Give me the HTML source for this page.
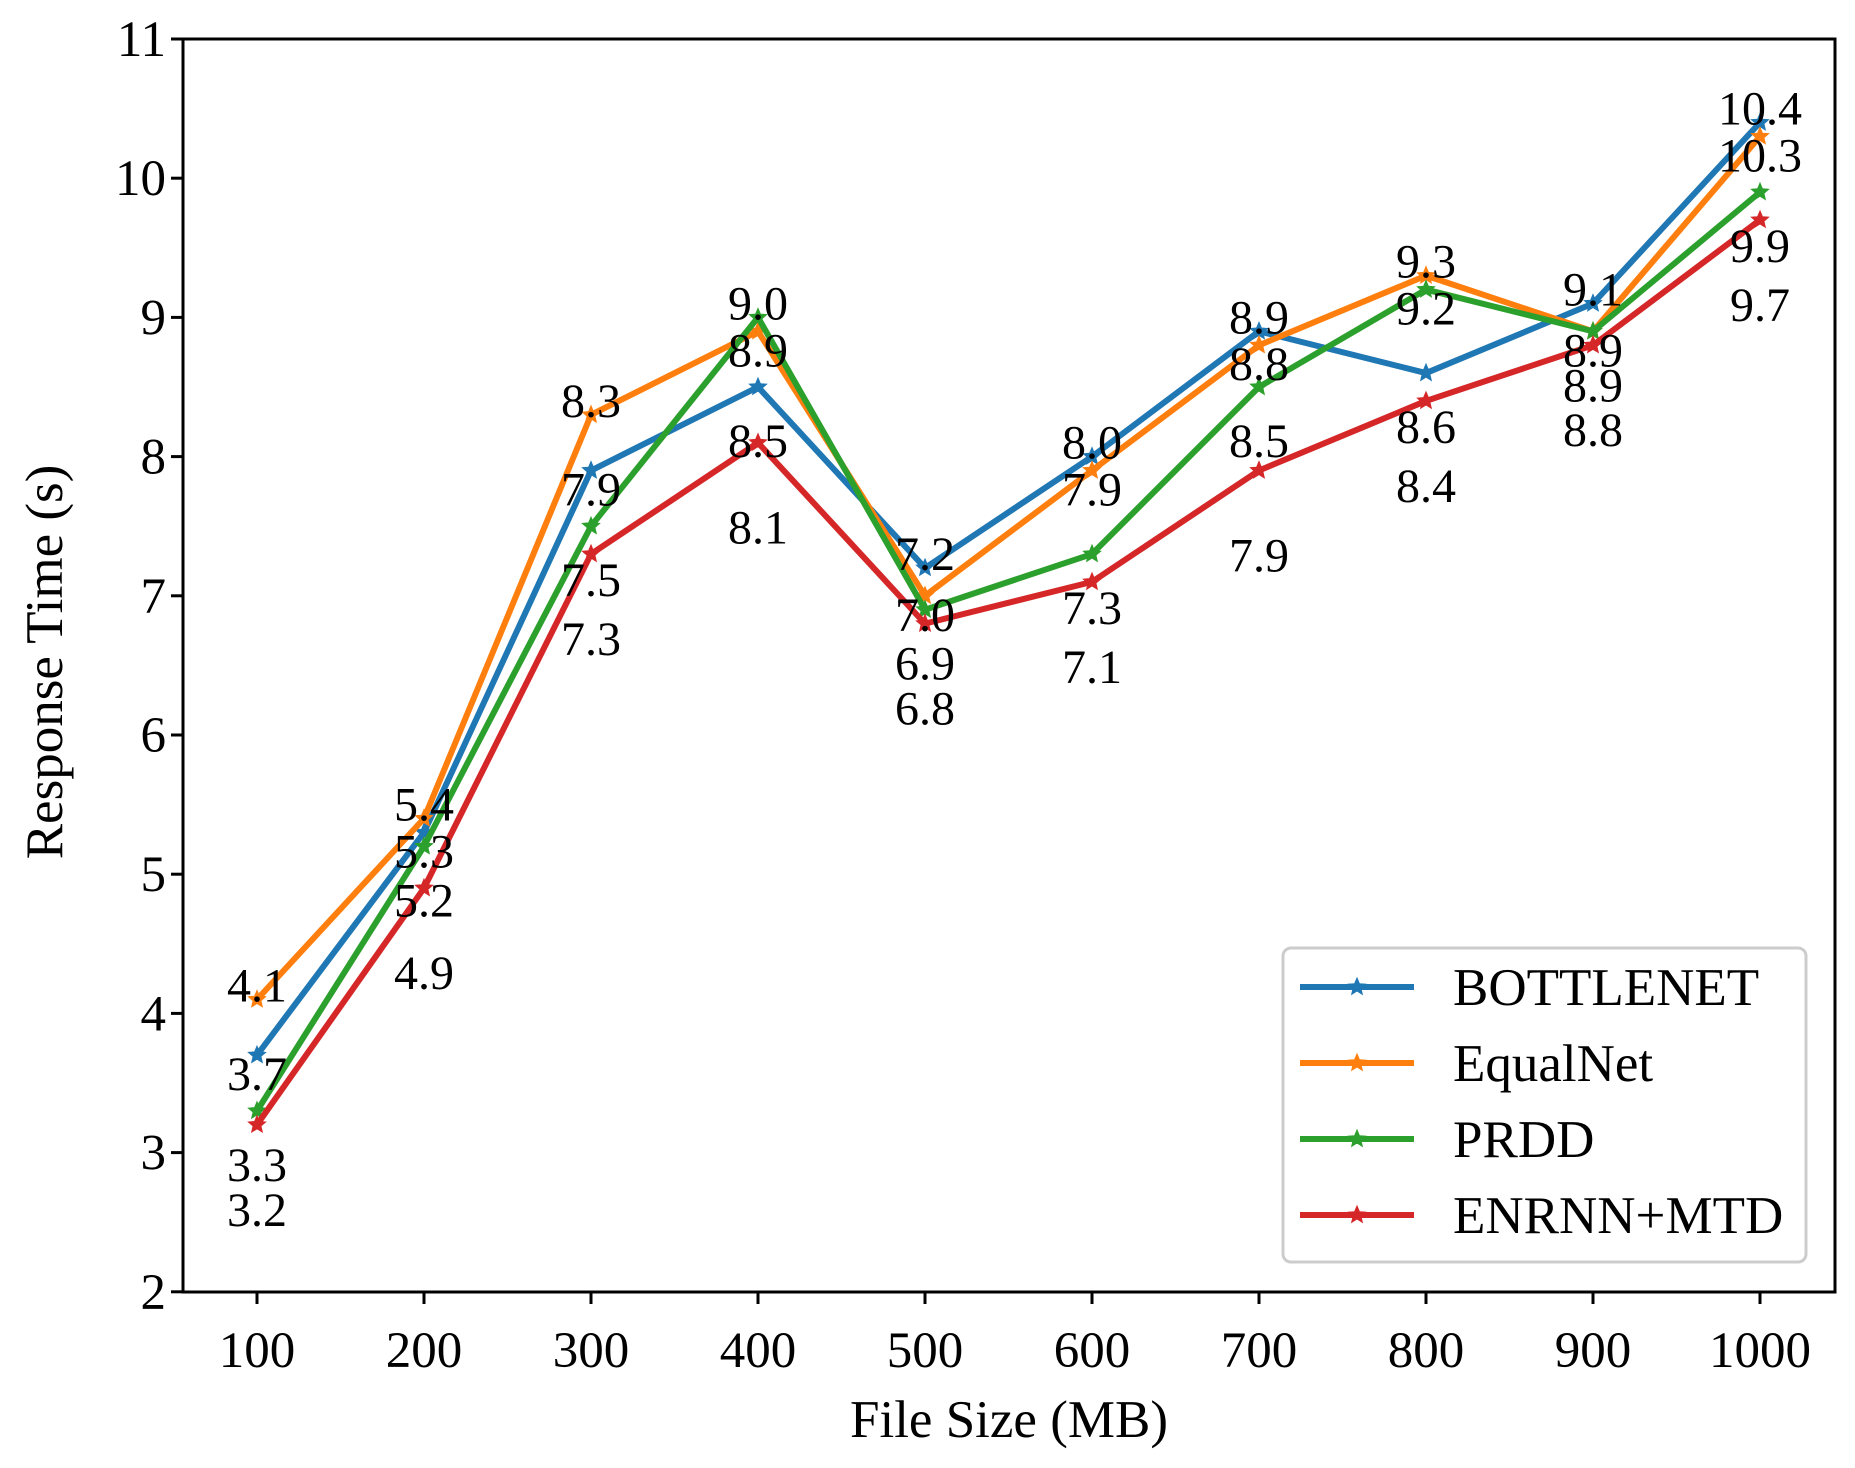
<!DOCTYPE html>
<html><head><meta charset="utf-8"><style>
html,body{margin:0;padding:0;background:#fff}
svg{display:block;font-family:"Liberation Serif",serif}
</style></head><body>
<svg id="chart" width="1855" height="1468" viewBox="0 0 1855 1468">
<g id="grid"></g>
<rect x="183" y="39" width="1652" height="1253" fill="none" stroke="#000" stroke-width="3"/>
<g id="axes"></g>
<g id="series"></g>
<g id="labels"></g>
<text x="1009" y="1437" font-size="53" text-anchor="middle">File Size (MB)</text>
<text transform="translate(62,662) rotate(-90)" font-size="53" text-anchor="middle">Response Time (s)</text>
<g id="legend"></g>
</svg>
<script>
const categories = [100,200,300,400,500,600,700,800,900,1000];
const seriesNames = ["BOTTLENET","EqualNet","PRDD","ENRNN+MTD"];
const bottlenet = [3.7,5.3,7.9,8.5,7.2,8.0,8.9,8.6,9.1,10.4];
const equalnet = [4.1,5.4,8.3,8.9,7.0,7.9,8.8,9.3,8.9,10.3];
const prdd = [3.3,5.2,7.5,9.0,6.9,7.3,8.5,9.2,8.9,9.9];
const enrnn = [3.2,4.9,7.3,8.1,6.8,7.1,7.9,8.4,8.8,9.7];
const yTicks = [2,3,4,5,6,7,8,9,10,11];
const colors = ["#1f77b4","#ff7f0e","#2ca02c","#d62728"];
const allSeries = [bottlenet,equalnet,prdd,enrnn];
const NS="http://www.w3.org/2000/svg";
function X(v){return 257+(v-100)*1.67;}
function Y(v){return 39+(11-v)*139.2;}
function mk(tag,attrs,parent){const e=document.createElementNS(NS,tag);for(const k in attrs)e.setAttribute(k,attrs[k]);parent.appendChild(e);return e;}
const axes=document.getElementById('axes');
yTicks.forEach(t=>{
  const l=mk('line',{x1:171,x2:183,y1:Y(t),y2:Y(t),stroke:'#000','stroke-width':3},axes);
  
  
  const tx=mk('text',{x:166,y:Y(t)+17,'font-size':51,'text-anchor':'end'},axes);
  tx.textContent=t;
  
  
});
categories.forEach(c=>{
  const l=mk('line',{x1:X(c),x2:X(c),y1:1292,y2:1304,stroke:'#000','stroke-width':3},axes);
  
  
  const tx=mk('text',{x:X(c),y:1367,'font-size':51,'text-anchor':'middle'},axes);
  tx.textContent=c;
  
  
});
function star(cx,cy,r,color,parent){
  let p=[];for(let i=0;i<10;i++){const a=-Math.PI/2+i*Math.PI/5;const rr=i%2?r*0.45:r;p.push((cx+rr*Math.cos(a)).toFixed(1)+','+(cy+rr*Math.sin(a)).toFixed(1));}
  return mk('polygon',{points:p.join(' '),fill:color,stroke:color,'stroke-width':1},parent);
}
const sg=document.getElementById('series');
allSeries.forEach((s,i)=>{
  const g=mk('g',{},sg);
  
  
  const pl=mk('polyline',{points:s.map((v,j)=>X(categories[j])+','+Y(v)).join(' '),fill:'none',stroke:colors[i],'stroke-width':6,'stroke-linejoin':'round'},g);
  
  
  s.forEach((v,j)=>{
    const m=star(X(categories[j]),Y(v),9,colors[i],g);
    
    
  });
});
const lg=document.getElementById('labels');
const rankOff=[-15,18,53,84];
categories.forEach((c,j)=>{
  const idx=[0,1,2,3].sort((a,b)=>allSeries[b][j]-allSeries[a][j]||a-b);
  idx.forEach((si,r)=>{
    const v=allSeries[si][j];
    const t=mk('text',{x:X(c),y:Y(v)+rankOff[r]+17,'font-size':48,'text-anchor':'middle'},lg);
    t.textContent=v.toFixed(1);
    
    
  });
});
const leg=document.getElementById('legend');
mk('rect',{x:1283,y:948,width:523,height:314,rx:8,fill:'#fff',stroke:'#ccc','stroke-width':3},leg);
seriesNames.forEach((n,i)=>{
  const y=987+i*76;
  const e=mk('g',{},leg);
  
  
  mk('line',{x1:1300,x2:1414,y1:y,y2:y,stroke:colors[i],'stroke-width':6},e);
  star(1357,y,9,colors[i],e);
  const t=mk('text',{x:1453,y:y+18,'font-size':53},e);
  t.textContent=n;
});
</script>
</body></html>
